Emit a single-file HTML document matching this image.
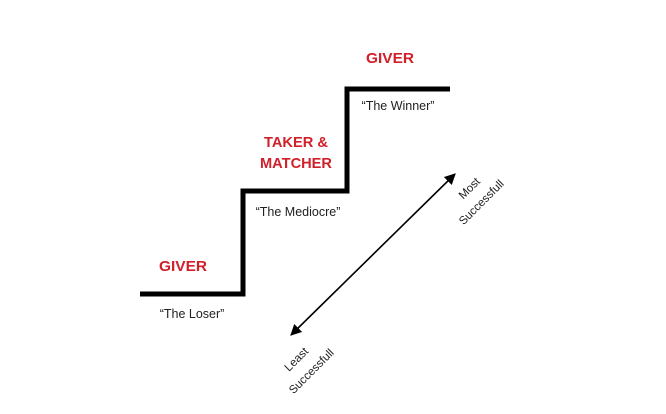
<!DOCTYPE html>
<html><head><meta charset="utf-8"><style>
html,body{margin:0;padding:0;background:#fff;}
svg{display:block;}
</style></head><body>
<svg width="666" height="414" viewBox="0 0 666 414" xmlns="http://www.w3.org/2000/svg">
<defs>
<marker id="ah" viewBox="0 0 10 10" refX="9" refY="5" markerWidth="7" markerHeight="7" orient="auto-start-reverse">
<path d="M0,0 L10,5 L0,10 z" fill="#000"/>
</marker>
</defs>
<polyline points="140,294 243,294 243,191 347,191 347,89 450,89" fill="none" stroke="#000" stroke-width="5" stroke-linejoin="miter"/>
<line x1="291" y1="335" x2="455" y2="174" stroke="#000" stroke-width="1.6" marker-start="url(#ah)" marker-end="url(#ah)"/>
<g font-family="Liberation Sans, sans-serif" text-anchor="middle">
<g fill="#d0202a" font-weight="bold" font-size="15">
<text x="183" y="271" textLength="48" lengthAdjust="spacingAndGlyphs">GIVER</text>
<text x="296" y="147" textLength="64" lengthAdjust="spacingAndGlyphs">TAKER &amp;</text>
<text x="296" y="168" textLength="72" lengthAdjust="spacingAndGlyphs">MATCHER</text>
<text x="390" y="63" textLength="48" lengthAdjust="spacingAndGlyphs">GIVER</text>
</g>
<g fill="#222" font-size="12.5">
<text x="192" y="318">“The Loser”</text>
<text x="298" y="216">“The Mediocre”</text>
<text x="398" y="110">“The Winner”</text>
</g>
<g fill="#222" font-size="11.5">
<text transform="translate(472,191) rotate(-45)">Most</text>
<text transform="translate(484,205) rotate(-45)">Successfull</text>
<text transform="translate(299,362) rotate(-45)">Least</text>
<text transform="translate(314,374) rotate(-45)">Successfull</text>
</g>
</g>
</svg>
</body></html>
